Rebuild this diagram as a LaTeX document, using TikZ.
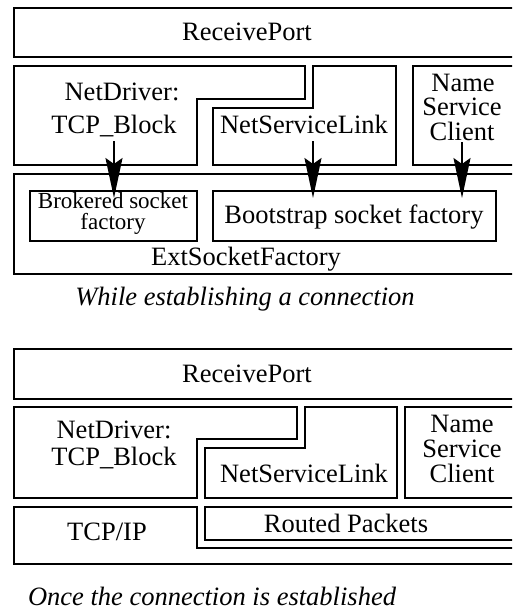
\documentclass[tikz,border=0pt]{standalone}
\usepackage{fontspec}
\setmainfont{Liberation Serif}
\usetikzlibrary{arrows.meta}
\tikzset{
  shp/.style={draw=black, line width=1.6pt},
  lbl/.style={inner sep=0pt, anchor=base, font=\fontsize{26.5}{24}\selectfont},
  small/.style={inner sep=0pt, anchor=base, font=\fontsize{23}{22}\selectfont},
  captxt/.style={inner sep=0pt, anchor=base, font=\fontsize{26.5}{24}\selectfont\itshape},
  arr/.style={line width=1.6pt, -{Stealth[length=40pt, width=17pt, inset=6pt]}}
}
\begin{document}
\begin{tikzpicture}[x=1pt,y=-1pt]
\clip (0,0) rectangle (512,610);
\fill[white] (0,0) rectangle (512,610);
% ---------- top diagram ----------
\draw[shp] (14,8) rectangle (530,57);
\node[lbl] (rp1) at (247,41) {ReceivePort};
\draw[shp] (14,66) -- (305,66) -- (305,99) -- (197,99) -- (197,165) -- (14,165) -- cycle;
\node[lbl] (nd1) at (122,100) {NetDriver:};
\node[lbl] (tcp1) at (114,133) {TCP\_Block};
\draw[shp] (213,165) -- (213,108) -- (313,108) -- (313,66) -- (396,66) -- (396,165) -- cycle;
\node[lbl] (nsl1) at (304,133) {NetServiceLink};
\draw[shp] (413,66) rectangle (530,165);
\node[lbl] (nsc1a) at (463,92) {Name};
\node[lbl] (nsc1b) at (462,115) {Service};
\node[lbl] (nsc1c) at (462,140) {Client};
\draw[shp] (14,174) rectangle (530,274);
\node[lbl] (ext) at (246,265) {ExtSocketFactory};
\draw[shp] (30,191) rectangle (197,241);
\node[small] (brk1) at (113,208) {Brokered socket};
\node[small] (brk2) at (113,229) {factory};
\draw[shp] (213,191) rectangle (496,241);
\node[lbl] (boot) at (354,223) {Bootstrap socket factory};
\node[captxt] (cap1) at (245,305) {While establishing a connection};
% arrows
\coordinate (a1s) at (114,141);
\coordinate (a1e) at (114,198);
\coordinate (a2s) at (313,141);
\coordinate (a2e) at (313,198);
\coordinate (a3s) at (462,142);
\coordinate (a3e) at (462,198);
\draw[arr] (a1s) -- (a1e);
\draw[arr] (a2s) -- (a2e);
\draw[arr] (a3s) -- (a3e);
% ---------- bottom diagram ----------
\draw[shp] (14,349) rectangle (530,399);
\node[lbl] (rp2) at (247,382) {ReceivePort};
\draw[shp] (14,407) -- (297,407) -- (297,439) -- (197,439) -- (197,498) -- (14,498) -- cycle;
\node[lbl] (nd2) at (114,438) {NetDriver:};
\node[lbl] (tcp2) at (114,465) {TCP\_Block};
\draw[shp] (205,498) -- (205,448) -- (305,448) -- (305,407) -- (397,407) -- (397,498) -- cycle;
\node[lbl] (nsl2) at (304,482) {NetServiceLink};
\draw[shp] (405,407) rectangle (530,498);
\node[lbl] (nsc2a) at (462,432) {Name};
\node[lbl] (nsc2b) at (462,457) {Service};
\node[lbl] (nsc2c) at (462,482) {Client};
\draw[shp] (14,507) -- (197,507) -- (197,548) -- (530,548) -- (530,564) -- (14,564) -- cycle;
\node[lbl] (tcpip) at (107,540) {TCP/IP};
\draw[shp] (205,507) rectangle (530,540);
\node[lbl] (routed) at (346,532) {Routed Packets};
\node[captxt] (cap2) at (212,605) {Once the connection is established};
\end{tikzpicture}
\end{document}
